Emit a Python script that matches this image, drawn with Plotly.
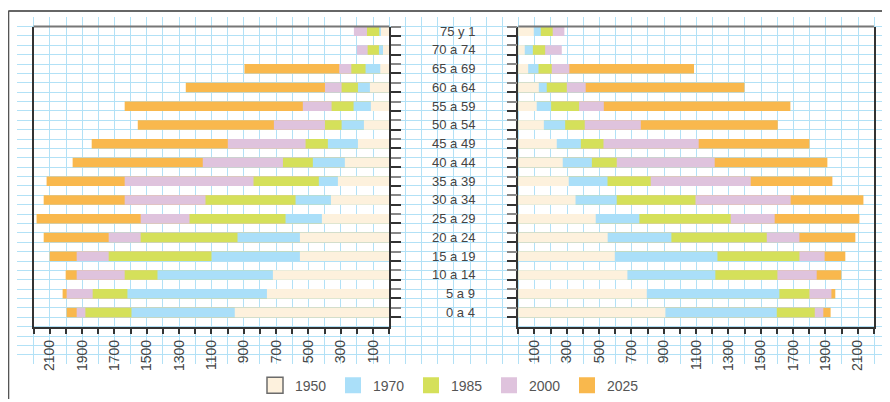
import plotly.graph_objects as go

# Age groups, listed from the bottom row (0 a 4) to the top row
age_groups = ["0 a 4", "5 a 9", "10 a 14", "15 a 19", "20 a 24", "25 a 29",
              "30 a 34", "35 a 39", "40 a 44", "45 a 49", "50 a 54", "55 a 59",
              "60 a 64", "65 a 69", "70 a 74", "75 y 1"]
years = ["1950", "1970", "1985", "2000", "2025"]

# Left pyramid half
left_1950 = [956, 757, 720, 553, 553, 417, 361, 318, 275, 194, 157, 114, 120, 56, 39, 52]
left_1970 = [1595, 1620, 1434, 1100, 939, 642, 580, 436, 473, 380, 295, 221, 194, 147, 64, 62]
left_1985 = [1880, 1835, 1637, 1736, 1538, 1236, 1137, 840, 658, 518, 398, 357, 295, 235, 134, 138]
left_2000 = [1934, 1996, 1934, 1934, 1736, 1538, 1637, 1637, 1154, 999, 714, 535, 398, 310, 200, 219]
left_2025 = [1996, 2021, 2002, 2101, 2138, 2182, 2138, 2120, 1959, 1841, 1556, 1637, 1259, 896, None, None]

# Right pyramid half
right_1950 = [910, 795, 675, 597, 553, 479, 354, 312, 275, 238, 158, 114, 127, 61, 40, 96]
right_1970 = [1599, 1615, 1219, 1232, 947, 749, 609, 552, 455, 387, 290, 203, 176, 125, 90, 139]
right_1985 = [1834, 1801, 1603, 1739, 1537, 1314, 1096, 819, 609, 527, 411, 376, 300, 207, 166, 213]
right_2000 = [1887, 1937, 1846, 1895, 1739, 1586, 1685, 1438, 1215, 1116, 758, 529, 417, 316, 269, 285]
right_2025 = [1932, 1961, 1998, 2023, 2085, 2110, 2135, 1943, 1912, 1801, 1605, 1683, 1399, 1087, None, None]

x_tick_vals = [100, 300, 500, 700, 900, 1100, 1300, 1500, 1700, 1900, 2100]

colors = {"1950": "#fdf1dd", "1970": "#aadff9", "1985": "#d5e05a",
          "2000": "#dfc3dd", "2025": "#f9b84d"}

left = {"1950": left_1950, "1970": left_1970, "1985": left_1985, "2000": left_2000, "2025": left_2025}
right = {"1950": right_1950, "1970": right_1970, "1985": right_1985, "2000": right_2000, "2025": right_2025}

# the page body has an 8px margin; the figure fills the rest of the window
OFF = 8
W, H = 890 - OFF, 402 - OFF
FONT = "Liberation Sans, Arial, sans-serif"


def px(x):
    return (x - OFF) / W


def py(y):
    return 1 - (y - OFF) / H


pos = list(range(len(age_groups)))

fig = go.Figure()

# background graph-paper subplot (x / y) carries only the grid
fig.add_trace(go.Scatter(x=[None], y=[None], xaxis="x", yaxis="y", showlegend=False,
                         hoverinfo="skip"))

# bars: drawn back-to-front so 1950 sits in front
for yr in reversed(years):
    fig.add_trace(go.Bar(y=pos, x=left[yr], orientation="h", width=0.5,
                         marker=dict(color=colors[yr], line=dict(width=0)),
                         xaxis="x2", yaxis="y2", showlegend=False, name=yr))
    fig.add_trace(go.Bar(y=pos, x=right[yr], orientation="h", width=0.5,
                         marker=dict(color=colors[yr], line=dict(width=0)),
                         xaxis="x3", yaxis="y3", showlegend=False, name=yr))

# legend entries
for yr in years:
    fig.add_trace(go.Scatter(x=[None], y=[None], mode="markers", name=yr,
                             xaxis="x", yaxis="y",
                             marker=dict(symbol="square", size=16, color=colors[yr],
                                         line=dict(width=1.5 if yr == "1950" else 0,
                                                   color="#6b6b6b"))))

px_per_100 = 16.165
ytop, ybot = 26.7, 329.0
ydom = [py(ybot), py(ytop)]
lx0, lx1 = 389.3 - 22 * px_per_100, 389.3
rx0, rx1 = 518.3, 518.3 + 22 * px_per_100

xax_common = dict(showline=True, linecolor="#333", linewidth=1.5, ticks="outside",
                  ticklen=6, tickwidth=1.5, tickcolor="#333", tickvals=x_tick_vals,
                  tickangle=-90, showgrid=False, zeroline=False, fixedrange=True,
                  tickfont=dict(size=14, color="#444", family=FONT),
                  minor=dict(ticks="outside", tick0=0, dtick=100, ticklen=6,
                             tickwidth=1.5, tickcolor="#333", showgrid=False))
yax_common = dict(range=[-0.75, 15.25], domain=ydom, showline=True, mirror=True,
                  linecolor="#333", linewidth=1.5, ticks="outside", ticklen=10,
                  tickwidth=1.5, tickcolor="#888",
                  tickvals=[p + 0.25 for p in pos], showticklabels=False,
                  showgrid=False, zeroline=False, fixedrange=True,
                  minor=dict(ticks="outside", tick0=-0.25, dtick=1, ticklen=10,
                             tickwidth=1.5, tickcolor="#333", showgrid=False))

grid_x0, grid_y0, grid_y1 = 17.1, 17.25, 366.8

fig.update_layout(
    width=W, height=H,
    margin=dict(l=0, r=0, t=0, b=0),
    paper_bgcolor="white", plot_bgcolor="rgba(0,0,0,0)",
    barmode="overlay",
    font=dict(family=FONT, color="#444"),
    xaxis=dict(domain=[px(grid_x0), 1], range=[grid_x0, 890], tick0=389.3,
               dtick=px_per_100, showgrid=True, gridcolor="#b2e1f6", gridwidth=1.3,
               showticklabels=False, ticks="", zeroline=False, showline=False,
               fixedrange=True),
    yaxis=dict(domain=[py(grid_y1), py(grid_y0)], range=[grid_y1, grid_y0], tick0=26.7,
               dtick=9.45, showgrid=True, gridcolor="#b2e1f6", gridwidth=1.3,
               showticklabels=False, ticks="", zeroline=False, showline=False,
               fixedrange=True),
    xaxis2=dict(domain=[px(lx0), px(lx1)], range=[2200, 0], anchor="y2", **xax_common),
    yaxis2=dict(anchor="x2", side="right", **yax_common),
    xaxis3=dict(domain=[px(rx0), px(rx1)], range=[0, 2200], anchor="y3", **xax_common),
    yaxis3=dict(anchor="x3", side="left", **yax_common),
    legend=dict(orientation="h", x=px(255), xanchor="left", y=py(388.5),
                yanchor="middle", font=dict(size=14, color="#555", family=FONT),
                bgcolor="rgba(0,0,0,0)", entrywidth=33, traceorder="normal"),
    showlegend=True,
)

# panel top edges (gray) and outer page frame
fig.add_shape(type="line", xref="x2 domain", yref="y2 domain", x0=0, x1=1, y0=1, y1=1,
              line=dict(color="#777", width=2))
fig.add_shape(type="line", xref="x3 domain", yref="y3 domain", x0=0, x1=1, y0=1, y1=1,
              line=dict(color="#777", width=2))
fig.add_shape(type="line", xref="paper", yref="paper", x0=px(8.3), x1=1,
              y0=py(11), y1=py(11), line=dict(color="#666", width=2))
fig.add_shape(type="line", xref="paper", yref="paper", x0=px(8.3), x1=px(8.3),
              y0=0, y1=py(11), line=dict(color="#555", width=2))

# age-group labels between the two halves
for p, lab in zip(pos, age_groups):
    fig.add_annotation(x=px(477), xref="paper", y=p, yref="y3", text=lab,
                       showarrow=False, xanchor="right", yanchor="middle",
                       font=dict(size=13, color="#444", family=FONT))

fig.write_html("out.html")
